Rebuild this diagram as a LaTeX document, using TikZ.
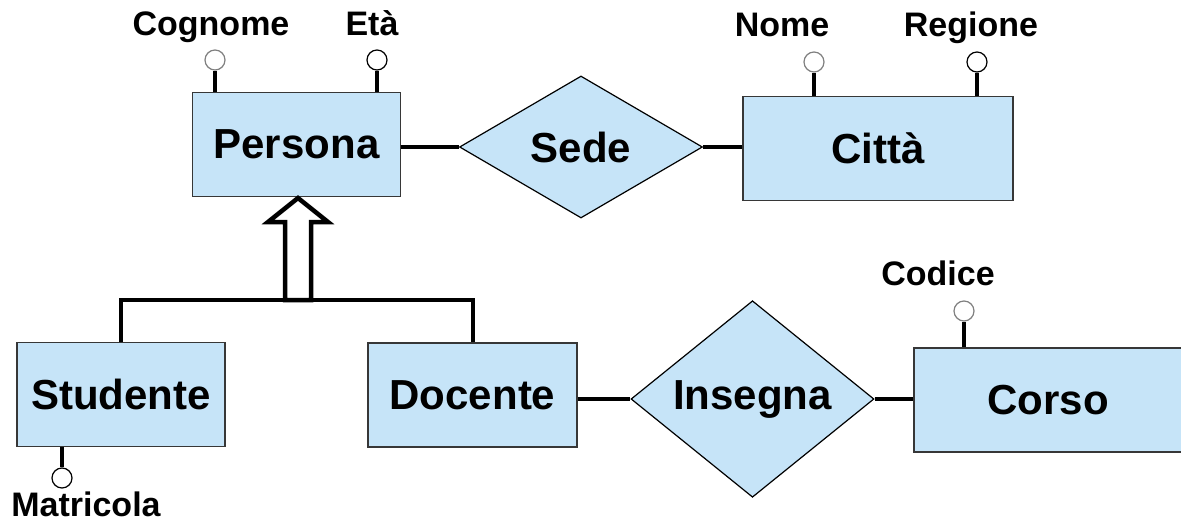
\documentclass[tikz,border=0pt]{standalone}
\usepackage{fontspec}
\setmainfont{Liberation Sans}
\usepackage{xcolor}
\usepackage{tikz}
\usetikzlibrary{shapes.geometric}
\definecolor{azzurro}{RGB}{198,228,248}
\definecolor{bordo}{RGB}{55,55,55}

\begin{document}
\begin{tikzpicture}[x=1pt, y=-1pt,
    entita/.style={rectangle, draw=bordo, line width=1.5pt, fill=azzurro, inner sep=0pt,
        minimum height=104pt, font=\fontsize{42}{50}\selectfont\bfseries},
    relazione/.style={diamond, draw=black, line width=1.2pt, fill=azzurro, inner sep=0pt,
        minimum width=243pt, minimum height=142pt, font=\fontsize{42}{50}\selectfont\bfseries},
    attributo/.style={circle, draw=black, line width=1.2pt, fill=white, inner sep=0pt, minimum size=20pt},
    attrgrigio/.style={attributo, draw=gray},
    etichetta/.style={anchor=base, inner sep=0pt, font=\fontsize{34}{40}\selectfont\bfseries},
    legame/.style={line width=4pt}]

    \useasboundingbox (0,0) rectangle (1181,524);

    % Entita
    \node[entita, minimum width=208pt] (persona) at (296.5,144.5) {Persona};
    \node[entita, minimum width=270pt] (citta) at (878,148.5) {Città};
    \node[entita, minimum width=208pt] (studente) at (121,394.5) {Studente};
    \node[entita, minimum width=209pt] (docente) at (472.5,395) {Docente};
    \node[entita, minimum width=268pt] (corso) at (1048,400) {Corso};

    % Relazioni
    \node[relazione] (sede) at (581,147) {Sede};
    \node[relazione] (insegna) at (752.5,399) {Insegna};

    % Legami
    \draw[legame] (persona.east |- sede.west) -- (sede.west);
    \draw[legame] (sede.east) -- (sede.east -| citta.west);
    \draw[legame] (docente.east |- insegna.west) -- (insegna.west);
    \draw[legame] (insegna.east) -- (insegna.east -| corso.west);

    % Attributi
    \node[attrgrigio] (cognome) at (215,60) {};
    \node[attributo] (eta) at (377,60) {};
    \node[attrgrigio] (nome) at (814,62) {};
    \node[attributo] (regione) at (977,62) {};
    \node[attrgrigio] (codice) at (964,311) {};
    \node[attributo] (matricola) at (62,478) {};

    \draw[legame] (cognome.south) -- (cognome.south |- persona.north);
    \draw[legame] (eta.south) -- (eta.south |- persona.north);
    \draw[legame] (nome.south) -- (nome.south |- citta.north);
    \draw[legame] (regione.south) -- (regione.south |- citta.north);
    \draw[legame] (codice.south) -- (codice.south |- corso.north);
    \draw[legame] (matricola.north) -- (matricola.north |- studente.south);

    % Etichette
    \node[etichetta] (lcognome) at (211,36) {Cognome};
    \node[etichetta] (leta) at (372,36) {Età};
    \node[etichetta] (lnome) at (782,37) {Nome};
    \node[etichetta] (lregione) at (971,37) {Regione};
    \node[etichetta] (lcodice) at (938,285) {Codice};
    \node[etichetta] (lmatricola) at (86,516) {Matricola};

    % Generalizzazione
    \coordinate (gen) at (298,300);
    \begin{scope}[shift={(gen)}]
        \draw[line width=4.5pt, fill=white] (-13,0) -- (-13,-78) -- (-30,-78) -- (0,-102)
            -- (30,-78) -- (13,-78) -- (13,0) -- cycle;
    \end{scope}
    \draw[legame] (studente.north) |- (gen) -| (docente.north);
\end{tikzpicture}
\end{document}
